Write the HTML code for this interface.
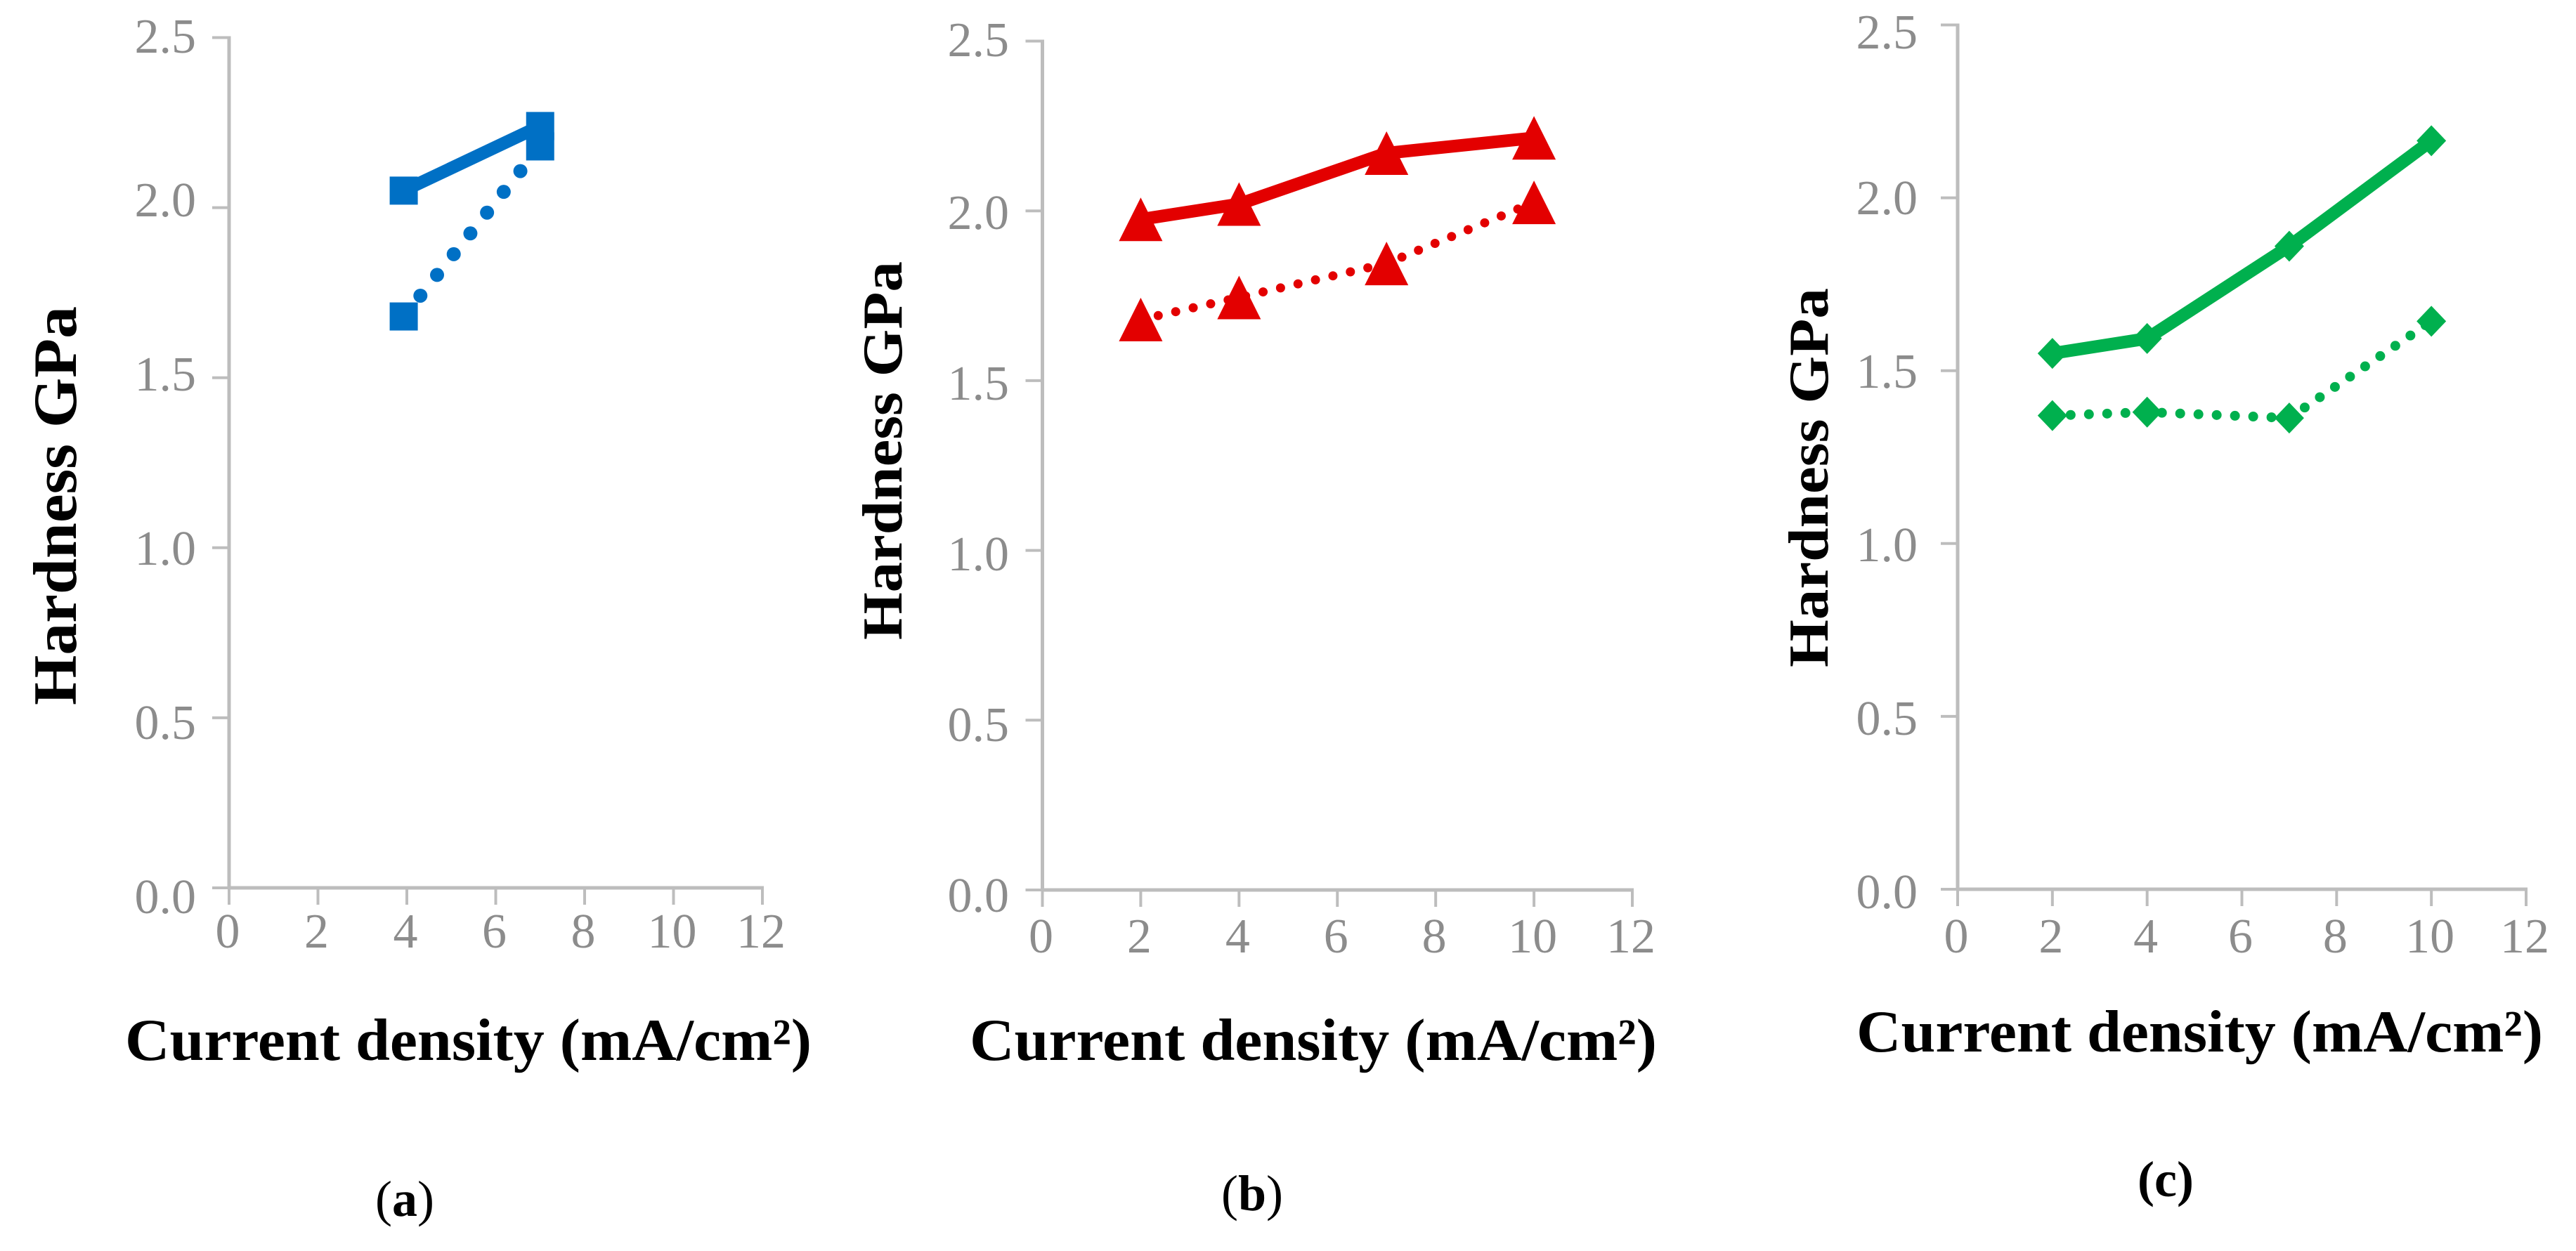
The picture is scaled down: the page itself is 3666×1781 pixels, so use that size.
<!DOCTYPE html>
<html>
<head>
<meta charset="utf-8">
<title>Hardness vs current density</title>
<style>
html,body{margin:0;padding:0;background:#fff;width:3666px;height:1781px;overflow:hidden}
svg{display:block}
text{font-family:"Liberation Serif",serif}
</style>
</head>
<body>
<svg id="figure" xmlns="http://www.w3.org/2000/svg" width="3666" height="1781" viewBox="0 0 3666 1781"></svg>
<script>
const xTickLabels = [0, 2, 4, 6, 8, 10, 12];
const yTickLabels = ["0.0", "0.5", "1.0", "1.5", "2.0", "2.5"];

const densityA = [3.93, 7];
const solidA = [2.05, 2.24];
const dottedA = [1.68, 2.18];

const densityB = [2, 4, 7, 10];
const solidB = [1.975, 2.02, 2.17, 2.215];
const dottedB = [1.68, 1.745, 1.845, 2.025];

const densityC = [2, 4, 7, 10];
const solidC = [1.55, 1.593, 1.86, 2.165];
const dottedC = [1.37, 1.38, 1.363, 1.643];

const NS = "http://www.w3.org/2000/svg";
const svg = document.getElementById("figure");

function make(parent, tag, attrs, content) {
  const e = document.createElementNS(NS, tag);
  for (const k in attrs) e.setAttribute(k, attrs[k]);
  if (content !== undefined) e.textContent = content;
  parent.appendChild(e);
  return e;
}

function marker(parent, shape, px, py, color) {
  let m;
  if (shape === "square") {
    m = make(parent, "rect", {x: px - 20, y: py - 20, width: 40, height: 40, fill: color});
  } else if (shape === "triangle") {
    m = make(parent, "polygon", {points: `${px},${py - 31} ${px + 31},${py + 31} ${px - 31},${py + 31}`, fill: color});
  } else {
    m = make(parent, "polygon", {points: `${px},${py - 22} ${px + 21},${py} ${px},${py + 22} ${px - 21},${py}`, fill: color});
  }
  return m;
}

function drawPanel(p) {
  const g = make(svg, "g", {});
  
  

  const xPos = v => p.x0 + (v / 12) * (p.x12 - p.x0);
  const yPos = v => p.y0 - (v / 2.5) * (p.y0 - p.y25);
  const axisColor = "#bdbdbd";

  const yAxis = make(g, "line", {x1: xPos(0), y1: yPos(2.5) - 2, x2: xPos(0), y2: p.y0, stroke: axisColor, "stroke-width": 5});
  
  
  const xAxis = make(g, "line", {x1: xPos(0), y1: p.y0, x2: xPos(12) + 2, y2: p.y0, stroke: axisColor, "stroke-width": 5});
  
  

  yTickLabels.forEach(label => {
    const v = parseFloat(label);
    const tick = make(g, "line", {x1: xPos(0) - 24, y1: yPos(v), x2: xPos(0), y2: yPos(v), stroke: axisColor, "stroke-width": 4});
    
    
    const baseline = p.labelBase - v * p.labelStep * 2 + (v === 2.5 ? p.topNudge : 0);
    const t = make(g, "text", {x: p.yLabelRight, y: baseline, "text-anchor": "end", "font-size": 70, fill: "#8c8c8c"}, label);
    
    
  });

  xTickLabels.forEach(v => {
    const tick = make(g, "line", {x1: xPos(v), y1: p.y0, x2: xPos(v), y2: p.y0 + 24, stroke: axisColor, "stroke-width": 4});
    
    
    const t = make(g, "text", {x: xPos(v) - 2, y: p.xLabelBase, "text-anchor": "middle", "font-size": 70, fill: "#8c8c8c"}, String(v));
    
    
  });

  const pts = arr => arr.map((v, i) => xPos(p.density[i]) + "," + yPos(v)).join(" ");

  const dotted = make(g, "polyline", {points: pts(p.dotted), fill: "none", stroke: p.color, "stroke-width": p.dotWidth, "stroke-linecap": "round", "stroke-dasharray": "0 " + p.dotGap});
  
  
  const solid = make(g, "polyline", {points: pts(p.solid), fill: "none", stroke: p.color, "stroke-width": 18, "stroke-linejoin": "round"});
  
  

  p.dotted.forEach((v, i) => {
    const m = marker(g, p.shape, xPos(p.density[i]), yPos(v), p.color);
    
    
  });
  p.solid.forEach((v, i) => {
    const m = marker(g, p.shape, xPos(p.density[i]), yPos(v), p.color);
    
    
  });

  const xTitle = make(g, "text", {x: p.xTitleX, y: p.xTitleY, "font-size": 85, "font-weight": "bold", fill: "#000", textLength: p.xTitleLen, lengthAdjust: "spacingAndGlyphs"}, "Current density (mA/cm\u00B2)");
  
  

  const yTitle = make(g, "text", {transform: `translate(${p.yTitleX},${p.yTitleBottom}) rotate(-90)`, x: 0, y: 0, "font-size": p.yTitleSize, "font-weight": "bold", fill: "#000", textLength: p.yTitleLen, lengthAdjust: "spacingAndGlyphs"}, "Hardness GPa");
  
  

  const cap = make(g, "text", {x: p.capX, y: p.capY, "font-size": 72, fill: "#000", "font-weight": p.id === "c" ? "bold" : "normal"});
  
  
  cap.appendChild(document.createTextNode("("));
  const letter = make(cap, "tspan", {"font-weight": "bold"}, p.id);
  
  
  cap.appendChild(document.createTextNode(")"));
}

drawPanel({
  id: "a", color: "#0070c5", shape: "square",
  density: densityA, solid: solidA, dotted: dottedA,
  x0: 326, x12: 1085, y0: 1264, y25: 53.5,
  yLabelRight: 279, labelBase: 1300, labelStep: 248, topNudge: 15, xLabelBase: 1349,
  dotWidth: 20, dotGap: 37.9,
  xTitleX: 178, xTitleY: 1509, xTitleLen: 977,
  yTitleX: 108, yTitleBottom: 1004, yTitleLen: 568, yTitleSize: 88,
  capX: 534, capY: 1731
});
drawPanel({
  id: "b", color: "#e30000", shape: "triangle",
  density: densityB, solid: solidB, dotted: dottedB,
  x0: 1483.5, x12: 2323, y0: 1267, y25: 58.5,
  yLabelRight: 1436, labelBase: 1298, labelStep: 243, topNudge: -3, xLabelBase: 1356,
  dotWidth: 13, dotGap: 25.5,
  xTitleX: 1380, xTitleY: 1509, xTitleLen: 978,
  yTitleX: 1283, yTitleBottom: 911, yTitleLen: 539, yTitleSize: 80,
  capX: 1738, capY: 1723
});
drawPanel({
  id: "c", color: "#00b04e", shape: "diamond",
  density: densityC, solid: solidC, dotted: dottedC,
  x0: 2786, x12: 3595, y0: 1266, y25: 35.5,
  yLabelRight: 2729, labelBase: 1293, labelStep: 247, topNudge: 11, xLabelBase: 1356,
  dotWidth: 14, dotGap: 26,
  xTitleX: 2642, xTitleY: 1497, xTitleLen: 977,
  yTitleX: 2601, yTitleBottom: 950, yTitleLen: 540, yTitleSize: 80,
  capX: 3042, capY: 1703
});
</script>
</body>
</html>
